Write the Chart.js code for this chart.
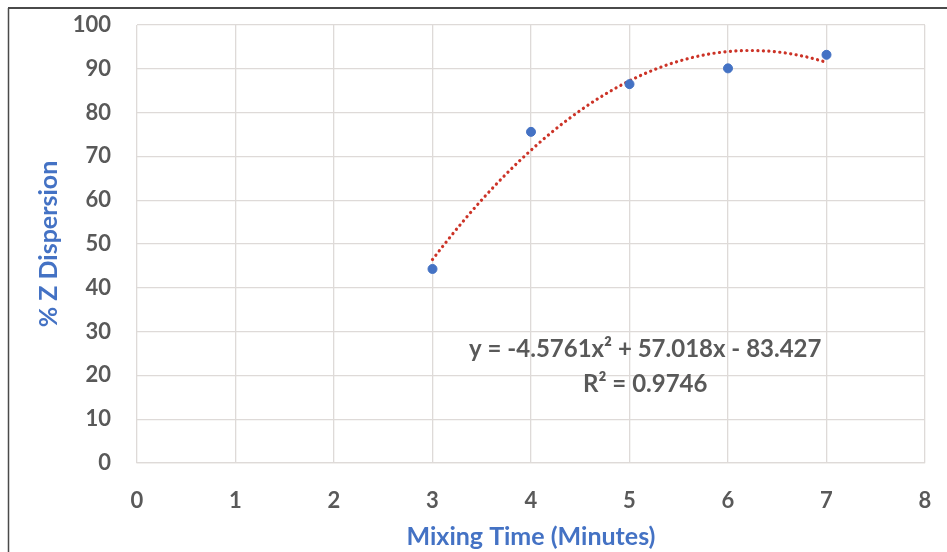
<!DOCTYPE html>
<html>
<head>
<meta charset="utf-8">
<script src="https://cdn.jsdelivr.net/npm/chart.js@4.4.1/dist/chart.umd.min.js"></script>
<style>
  html, body { margin: 0; padding: 0; background: #fff; }
  canvas { display: block; }
</style>
</head>
<body>
<canvas id="chart" width="947" height="552"></canvas>
<script>
// mixing time (minutes) vs. measured % Z dispersion
const mixingTime = [3, 4, 5, 6, 7];
const dispersion = [44.3, 75.6, 86.5, 90.1, 93.2];

// second order polynomial trendline: a*x^2 + b*x + c
const trendCoef = [-4.5761, 57.018, -83.427];
const trendR2 = 0.9746;

const xTicks = [0, 1, 2, 3, 4, 5, 6, 7, 8];
const yTicks = [0, 10, 20, 30, 40, 50, 60, 70, 80, 90, 100];

const FONT = 'Lato, "Open Sans", sans-serif';
const TEXT = '#595959';
const BLUE = '#4472C4';
const GRID = '#DEDAD8';

function trendPoints() {
    const pts = [];
    const from = mixingTime[0];
    const to = mixingTime[mixingTime.length - 1];
    for (let x = from; x <= to + 1e-9; x += 0.05) {
        const y = trendCoef[0] * x * x + trendCoef[1] * x + trendCoef[2];
        pts.push({ x: x, y: y });
    }
    return pts;
}

function fmt(v) {
    return Math.abs(v).toString();
}

// frame lines + equation label
const extras = {
    id: 'extras',
    beforeDraw(chart) {
        const ctx = chart.ctx;
        ctx.save();
        ctx.fillStyle = '#fff';
        ctx.fillRect(0, 0, chart.width, chart.height);
        ctx.strokeStyle = '#4a4a4a';
        ctx.lineWidth = 2;
        ctx.beginPath();
        ctx.moveTo(8, 8);
        ctx.lineTo(chart.width, 8);
        ctx.stroke();
        ctx.lineWidth = 1.5;
        ctx.beginPath();
        ctx.moveTo(8.5, 8);
        ctx.lineTo(8.5, chart.height);
        ctx.stroke();
        ctx.restore();
    },
    afterDraw(chart) {
        const ctx = chart.ctx;
        const xs = chart.scales.x;
        const ys = chart.scales.y;
        const cx = xs.getPixelForValue(5.16);
        const eq = 'y = ' + (trendCoef[0] < 0 ? '-' : '') + fmt(trendCoef[0]) + 'x² ' +
            (trendCoef[1] < 0 ? '- ' : '+ ') + fmt(trendCoef[1]) + 'x ' +
            (trendCoef[2] < 0 ? '- ' : '+ ') + fmt(trendCoef[2]);
        ctx.save();
        ctx.fillStyle = TEXT;
        ctx.font = 'bold 24px ' + FONT;
        ctx.textAlign = 'center';
        ctx.textBaseline = 'middle';
        ctx.fillText(eq, cx, ys.getPixelForValue(25.9));
        ctx.fillText('R² = ' + trendR2, cx, ys.getPixelForValue(17.9));
        ctx.restore();
    }
};

function createChart() {
    const ctx = document.getElementById('chart');

    new Chart(ctx, {
        type: 'scatter',
        data: {
            datasets: [{
                label: '% Z Dispersion',
                data: mixingTime.map((x, i) => ({ x: x, y: dispersion[i] })),
                backgroundColor: BLUE,
                borderColor: BLUE,
                pointRadius: 4.5,
                order: 1
            }, {
                label: 'Poly. (% Z Dispersion)',
                type: 'line',
                data: trendPoints(),
                borderColor: '#CC3327',
                borderWidth: 3.2,
                borderDash: [0.1, 5.4],
                borderCapStyle: 'round',
                pointRadius: 0,
                fill: false,
                tension: 0,
                order: 2
            }]
        },
        options: {
            responsive: false,
            animation: false,
            events: [],
            layout: {
                padding: { top: 25, right: 22, left: 0, bottom: 0 }
            },
            plugins: {
                legend: { display: false },
                tooltip: { enabled: false }
            },
            scales: {
                x: {
                    type: 'linear',
                    min: 0,
                    max: 8,
                    afterBuildTicks: s => { s.ticks = xTicks.map(v => ({ value: v })); },
                    afterFit: s => {
                        s.height = 89;
                        s.paddingLeft = 0;
                        s.paddingRight = 0;
                    },
                    grid: { color: GRID, lineWidth: 1.3, drawTicks: false },
                    border: { color: GRID, width: 1.3 },
                    ticks: {
                        color: TEXT,
                        padding: 25,
                        font: { family: FONT, size: 22, weight: 'bold' }
                    },
                    title: {
                        display: true,
                        text: 'Mixing Time (Minutes)',
                        color: BLUE,
                        padding: { top: 0, bottom: 0 },
                        font: { family: FONT, size: 25, weight: 'bold' }
                    }
                },
                y: {
                    min: 0,
                    max: 100,
                    afterBuildTicks: s => { s.ticks = yTicks.map(v => ({ value: v })); },
                    afterFit: s => {
                        s.width = 137;
                        s.paddingTop = 0;
                        s.paddingBottom = 0;
                    },
                    grid: { color: GRID, lineWidth: 1.3, drawTicks: false },
                    border: { display: false },
                    ticks: {
                        color: TEXT,
                        padding: 26,
                        font: { family: FONT, size: 22, weight: 'bold' }
                    },
                    title: {
                        display: true,
                        text: '% Z Dispersion',
                        color: BLUE,
                        padding: { top: 34, bottom: 0 },
                        font: { family: FONT, size: 25, weight: 'bold' }
                    }
                }
            }
        },
        plugins: [extras]
    });
}

createChart();
</script>
</body>
</html>
